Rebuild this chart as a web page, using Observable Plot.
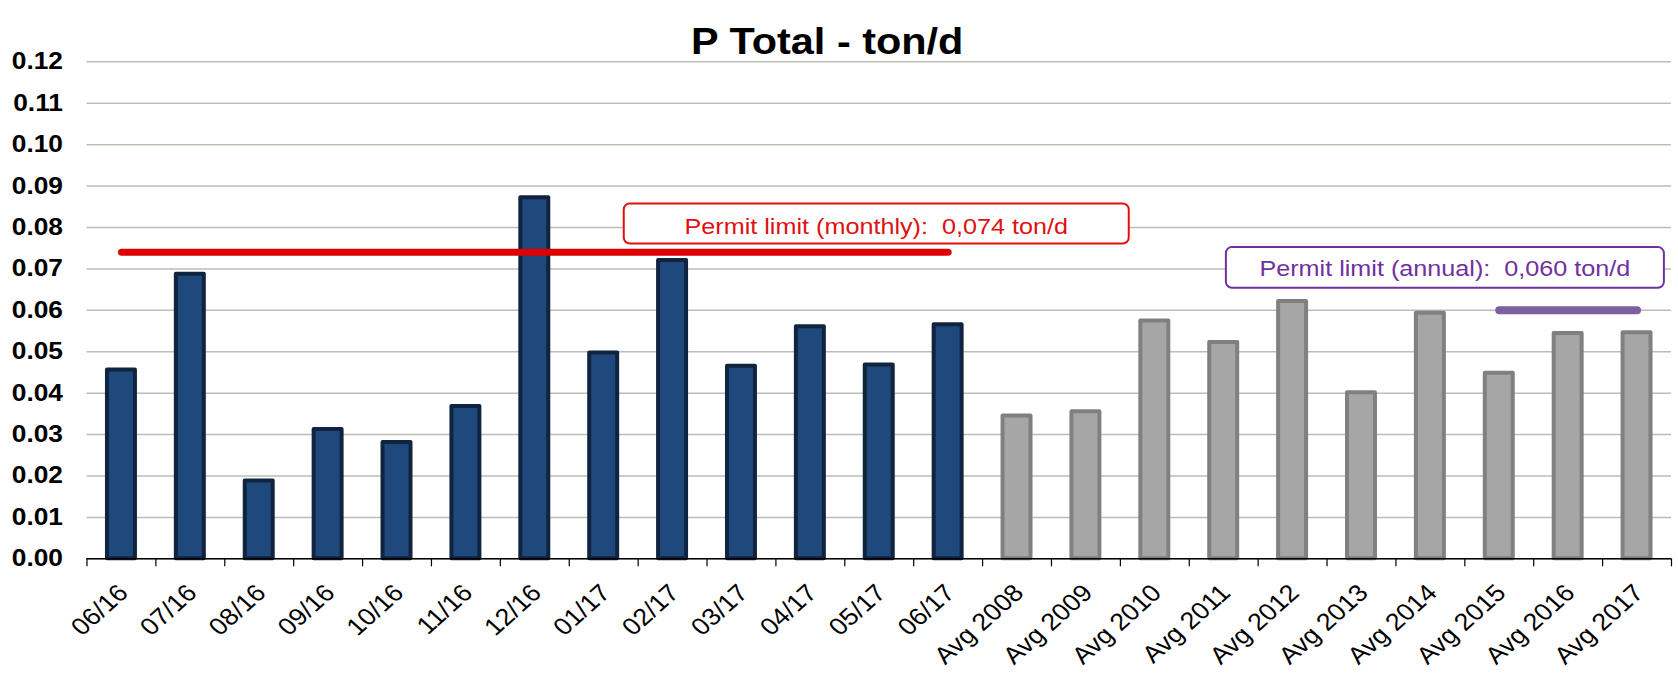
<!DOCTYPE html>
<html><head><meta charset="utf-8">
<script src="https://cdn.jsdelivr.net/npm/d3@7"></script>
<script src="https://cdn.jsdelivr.net/npm/@observablehq/plot@0.6"></script>
<style>body{margin:0;background:#fff} svg{display:block}</style>
</head><body><div id="chart"></div>
<script>
// ---- data ----
const monthLabels = ["06/16","07/16","08/16","09/16","10/16","11/16","12/16","01/17","02/17","03/17","04/17","05/17","06/17"];
const monthValues = [0.0456,0.0687,0.0188,0.0312,0.0281,0.0368,0.0872,0.0497,0.0720,0.0465,0.0560,0.0468,0.0565];
const annualLabels = ["Avg 2008","Avg 2009","Avg 2010","Avg 2011","Avg 2012","Avg 2013","Avg 2014","Avg 2015","Avg 2016","Avg 2017"];
const annualValues = [0.0345,0.0355,0.0574,0.0522,0.0621,0.0401,0.0593,0.0448,0.0544,0.0546];
const yTicks = [0,0.01,0.02,0.03,0.04,0.05,0.06,0.07,0.08,0.09,0.10,0.11,0.12];
const monthlyLimit = 0.074;
const annualLimit = 0.060;
const monthlySpan = ["06/16","06/17"];
const annualSpan = ["Avg 2015","Avg 2017"];
const titleText = "P Total - ton/d";
const monthlyNote = "Permit limit (monthly):\u00a0 0,074 ton/d";
const annualNote = "Permit limit (annual):\u00a0 0,060 ton/d";

// ---- layout ----
const W = 1678, H = 676, mL = 86.5, mR = 7, mT = 61.3, mB = 117.7;
const TEXT_STRETCH = 1.12; // the reference's lettering is horizontally widened
const categories = monthLabels.concat(annualLabels);
const step = (W - mL - mR) / categories.length;
const monthly = monthLabels.map((label, i) => ({label, value: monthValues[i]}));
const annual = annualLabels.map((label, i) => ({label, value: annualValues[i]}));
const mLine = monthlySpan.map(x => ({x, y: monthlyLimit}));
const aLine = annualSpan.map(x => ({x, y: annualLimit}));

function boxed(w, h, boxDy, color) {
  return function(index, scales, values, dimensions, context, next) {
    const g = next(index, scales, values, dimensions, context);
    for (const i of index) {
      const rect = document.createElementNS("http://www.w3.org/2000/svg", "rect");
      rect.setAttribute("x", values.x[i] - w / 2);
      rect.setAttribute("y", values.y[i] - h / 2 + boxDy);
      rect.setAttribute("width", w);
      rect.setAttribute("height", h);
      rect.setAttribute("rx", 6);
      rect.setAttribute("fill", "white");
      rect.setAttribute("stroke", color);
      rect.setAttribute("stroke-width", 2);
      g.insertBefore(rect, g.firstChild);
    }
    return g;
  };
}

function stretchText(svg, k) {
  svg.querySelectorAll("text").forEach(t => {
    let tr = t.getAttribute("transform") || "";
    const x = +(t.getAttribute("x") || 0), y = +(t.getAttribute("y") || 0);
    if (x || y) {
      t.removeAttribute("x"); t.removeAttribute("y");
      tr = (tr + ` translate(${x},${y})`).trim();
    }
    if (tr.includes("rotate(")) tr = tr.replace("rotate(", `scale(${k},1) rotate(`);
    else tr = (tr + ` scale(${k},1)`).trim();
    t.setAttribute("transform", tr);
  });
}

const chart = Plot.plot({
  width: W, height: H,
  marginLeft: mL, marginRight: mR, marginTop: mT, marginBottom: mB,
  style: {fontFamily: "'Liberation Sans', Arial, sans-serif", background: "white", color: "black"},
  x: {type: "band", domain: categories, paddingInner: 0.594, paddingOuter: 0.297, round: false, axis: null},
  y: {domain: [0, 0.12], axis: null},
  marks: [
    Plot.gridY(yTicks, {stroke: "#bdbdb5", strokeOpacity: 1, strokeWidth: 1.5}),
    Plot.axisY(yTicks, {tickSize: 0, tickPadding: 24, tickFormat: d3.format(".2f"), fontSize: 23.5, fontWeight: "bold", label: null}),
    Plot.barY(monthly, {x: "label", y: "value", fill: "#1f497d", stroke: "#10243f", strokeWidth: 4, strokeLinejoin: "round"}),
    Plot.barY(annual, {x: "label", y: "value", fill: "#a6a6a6", stroke: "#808080", strokeWidth: 4, strokeLinejoin: "round"}),
    Plot.ruleY([0], {stroke: "#000", strokeWidth: 1.5}),
    Plot.axisX(categories, {tickSize: 8, dx: step / 2, tickFormat: () => "", label: null, stroke: "#000", strokeWidth: 1.2}),
    Plot.axisX([categories[0]], {tickSize: 8, dx: -step / 2, tickFormat: () => "", label: null, stroke: "#000", strokeWidth: 1.2}),
    Plot.axisX(categories, {tickSize: 0, tickPadding: 30, tickRotate: -45, fontSize: 24, label: null, dx: 2}),
    Plot.line(mLine, {x: "x", y: "y", stroke: "#dd0000", strokeWidth: 7, strokeLinecap: "round"}),
    Plot.line(aLine, {x: "x", y: "y", stroke: "#7d60a0", strokeWidth: 8, strokeLinecap: "round"}),
    Plot.text([monthlyNote], {x: () => "05/17", y: () => 0.0801, text: d => d, dx: -3, fontSize: 22.5, fill: "#e01010",
      render: boxed(505, 40, -3.5, "#e01010")}),
    Plot.text([annualNote], {x: () => "Avg 2014", y: () => 0.0701, text: d => d, dx: 14.5, fontSize: 22.5, fill: "#7030a0",
      render: boxed(438, 40.7, -1, "#7030a0")}),
    Plot.text([titleText], {frameAnchor: "top", text: d => d, dy: -34, dx: -52, fontSize: 37, fontWeight: "bold", fill: "#000"})
  ]
});
stretchText(chart, TEXT_STRETCH);
document.getElementById("chart").appendChild(chart);
</script>
</body></html>
